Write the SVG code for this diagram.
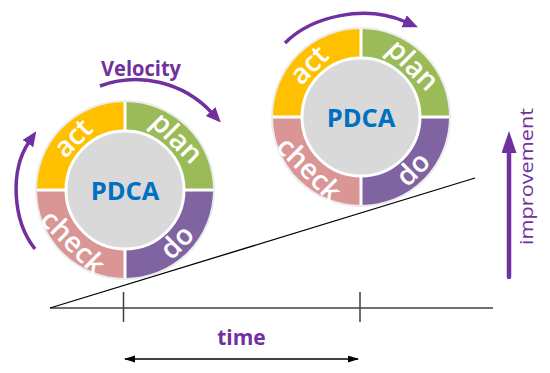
<svg xmlns="http://www.w3.org/2000/svg" width="550" height="373" viewBox="0 0 550 373">
<style>
.act{fill:#ffc000}
.plan{fill:#9bbb59}
.do{fill:#8064a2}
.check{fill:#d99694}
.sep{stroke:#ffffff;stroke-width:3;fill:none}
.rim{stroke:#ececec;stroke-width:2;fill:none}
.core{fill:#d9d9d9;stroke:#ffffff;stroke-width:3}
.lbl{font-family:"Open Sans","Liberation Sans",sans-serif;font-size:28px;font-weight:600;fill:#ffffff;text-anchor:middle}
.title{font-family:"Open Sans","Liberation Sans",sans-serif;font-size:25.5px;font-weight:bold;fill:#0070c0;text-anchor:middle}
.ptxt{font-family:"Open Sans","Liberation Sans",sans-serif;fill:#7030a0;text-anchor:middle}
.parc{stroke:#7030a0;stroke-width:3.5;fill:none;marker-end:url(#pHead)}
.axis{stroke:#404040;stroke-width:1.5;fill:none}
</style>
<defs>
<marker id="pHead" markerUnits="userSpaceOnUse" markerWidth="16" markerHeight="14" refX="2" refY="6.5" orient="auto">
<path d="M0,0 L15,6.5 L0,13 Z" fill="#7030a0"/>
</marker>
<marker id="impHead" markerUnits="userSpaceOnUse" markerWidth="24" markerHeight="16" refX="1" refY="7.5" orient="auto">
<path d="M0,0 L22,7.5 L0,15 Z" fill="#7030a0"/>
</marker>
<marker id="kHead" markerUnits="userSpaceOnUse" markerWidth="12" markerHeight="8" refX="10" refY="3.5" orient="auto-start-reverse">
<path d="M0,0 L11,3.5 L0,7 Z" fill="#000000"/>
</marker>
</defs>

<g id="connectors">
<path class="axis" d="M50,308 H493"/>
<path class="axis" d="M123.5,292 V322 M360,292 V322"/>
<path d="M50,308 L475,178" stroke="#000000" stroke-width="1.3" fill="none"/>
<path d="M125,359 H358" stroke="#000000" stroke-width="1.5" fill="none" marker-start="url(#kHead)" marker-end="url(#kHead)"/>
<path class="parc" d="M100,86 A104,104 0 0 1 212,113"/>
<path class="parc" d="M35,249 C12,220 10,170 29,142"/>
<path class="parc" d="M285,43 C312,16 365,4 406,22"/>
<path d="M509,277 V152" stroke="#7030a0" stroke-width="4.5" fill="none" stroke-linecap="round" marker-end="url(#impHead)"/>
</g>

<g id="pdca-left" transform="translate(125,190)">
<path class="act" d="M0,0 L-89,0 A89,89 0 0 1 0,-89 Z"/>
<path class="plan" d="M0,0 L0,-89 A89,89 0 0 1 89,0 Z"/>
<path class="do" d="M0,0 L89,0 A89,89 0 0 1 0,89 Z"/>
<path class="check" d="M0,0 L0,89 A89,89 0 0 1 -89,0 Z"/>
<path class="sep" d="M-90,0 H90 M0,-90 V90"/>
<circle class="rim" r="89"/>
<circle class="core" r="59"/>
<text class="lbl" transform="rotate(-45)" x="0" y="-64">act</text>
<text class="lbl" transform="rotate(45)" x="0" y="-64">plan</text>
<text class="lbl" transform="rotate(-45)" x="0" y="83">do</text>
<text class="lbl" transform="rotate(45)" x="0" y="83">check</text>
<text class="title" x="0" y="10">PDCA</text>
</g>

<g id="pdca-right" transform="translate(361,117)">
<path class="act" d="M0,0 L-89,0 A89,89 0 0 1 0,-89 Z"/>
<path class="plan" d="M0,0 L0,-89 A89,89 0 0 1 89,0 Z"/>
<path class="do" d="M0,0 L89,0 A89,89 0 0 1 0,89 Z"/>
<path class="check" d="M0,0 L0,89 A89,89 0 0 1 -89,0 Z"/>
<path class="sep" d="M-90,0 H90 M0,-90 V90"/>
<circle class="rim" r="89"/>
<circle class="core" r="59"/>
<text class="lbl" transform="rotate(-45)" x="0" y="-64">act</text>
<text class="lbl" transform="rotate(45)" x="0" y="-64">plan</text>
<text class="lbl" transform="rotate(-45)" x="0" y="83">do</text>
<text class="lbl" transform="rotate(45)" x="0" y="83">check</text>
<text class="title" x="0" y="10">PDCA</text>
</g>

<g id="label-velocity">
<text class="ptxt" x="141" y="75.5" font-size="21" font-weight="bold" textLength="80" lengthAdjust="spacingAndGlyphs">Velocity</text>
</g>
<g id="label-time">
<text class="ptxt" x="241.5" y="345" font-size="21" font-weight="bold">time</text>
</g>
<g id="label-improvement">
<text class="ptxt" transform="translate(532.5,176.5) rotate(-90)" x="0" y="0" font-size="19" textLength="137" lengthAdjust="spacingAndGlyphs">improvement</text>
</g>
</svg>
